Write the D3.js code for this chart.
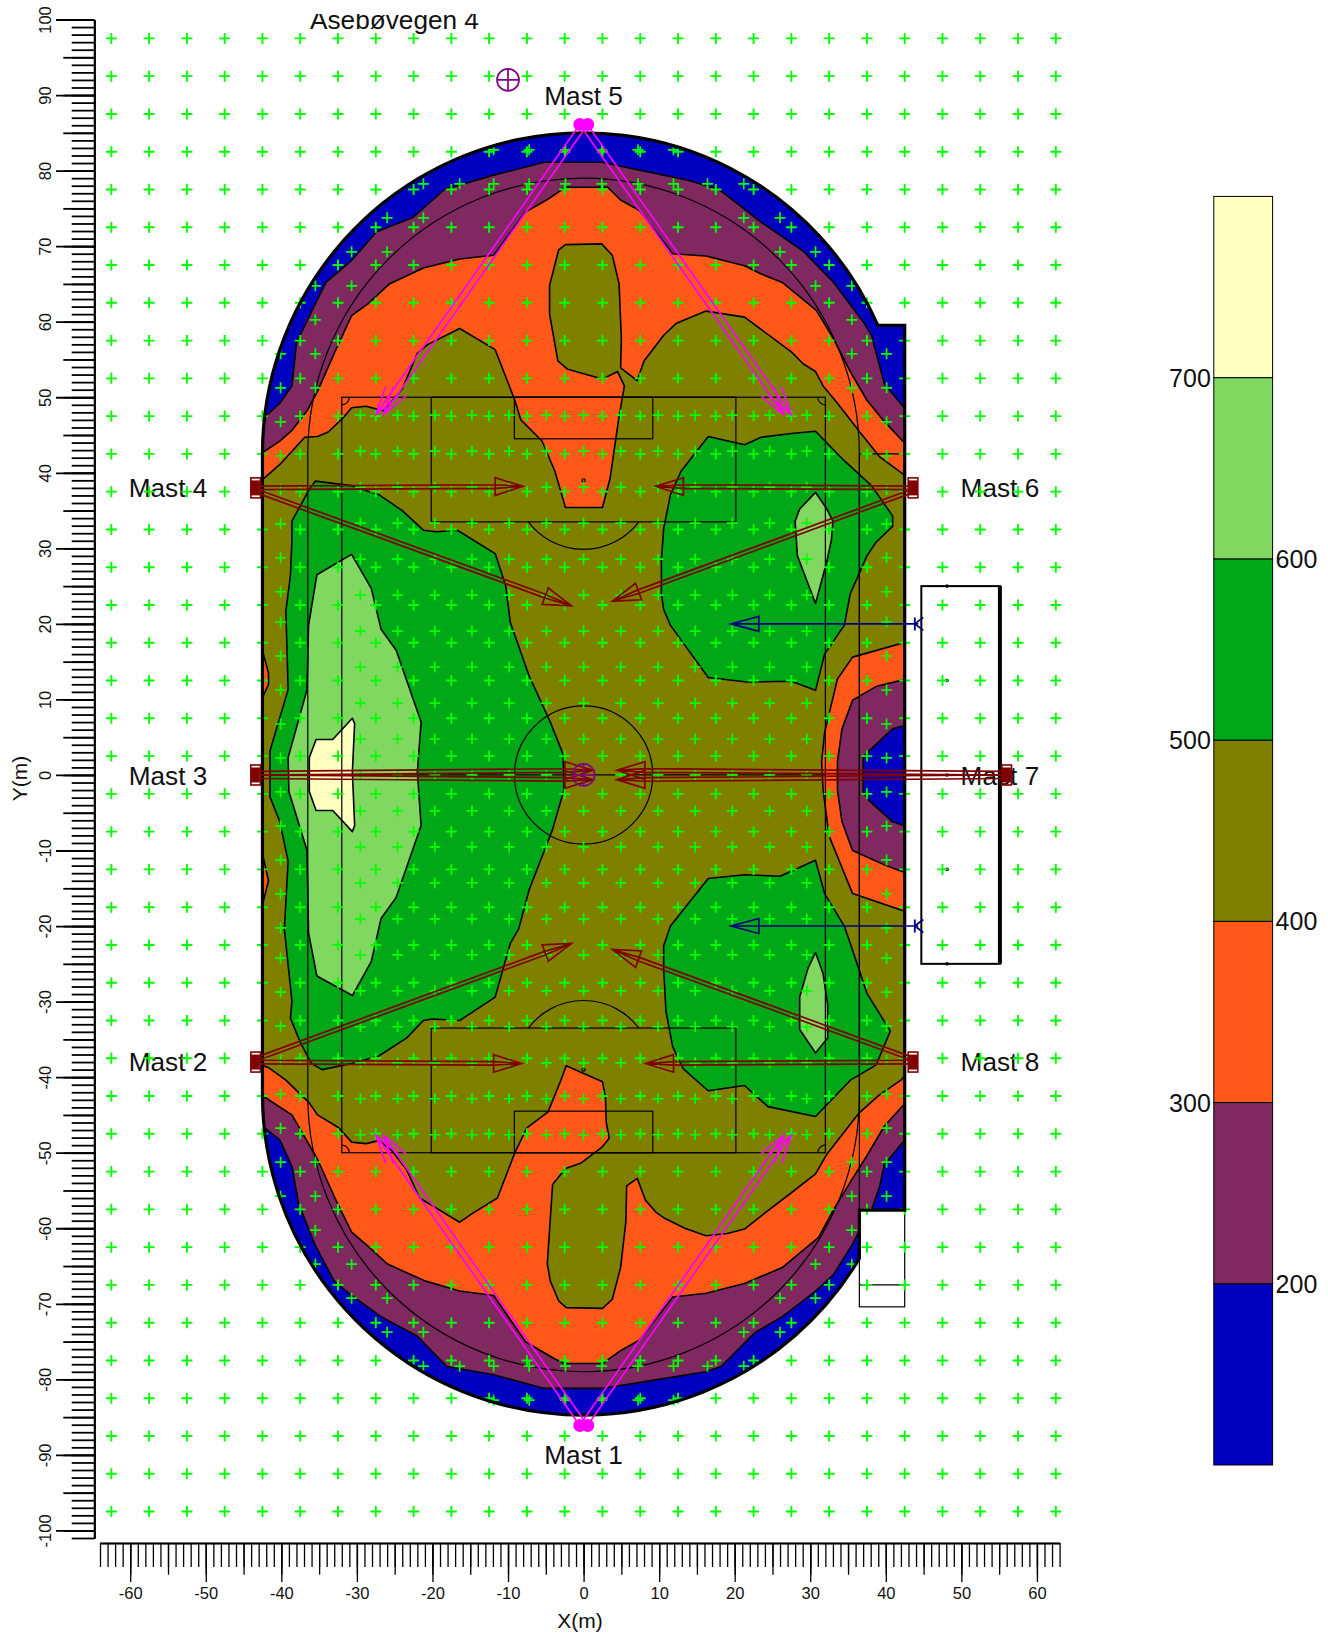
<!DOCTYPE html>
<html><head><meta charset="utf-8">
<script src="https://d3js.org/d3.v7.min.js"></script>
<style>html,body{margin:0;padding:0;background:#fff}svg{display:block}text{font-family:"Liberation Sans",Arial,sans-serif;fill:#111}</style>
</head><body><svg id="c" width="1328" height="1634"></svg>
<script>
// ---- contour levels ----
const legendLevels=[100,200,300,400,500,600,700,800];
const legendColors=["#0000c0","#802860","#ff5818","#808000","#00a818","#80d860","#ffffc0"];
const legendLeftLabels=[300,500,700];
const legendRightLabels=[200,400,600];
// ---- contour lines, metres ----
const purpleTop=[[-42.6,47],[-40.2,49.2],[-38.6,51.5],[-38,57.2],[-35.5,62.4],[-34.1,65.2],[-30.7,68.1],[-27.4,71.9],[-22.6,73.8],[-18.4,77.5],[-11.9,79.4],[-5.2,81.1],[2.4,81.1],[10.6,79.4],[14,78.7],[17.9,77.5],[21.3,74.9],[23.3,73.3],[29.1,69.3],[33.1,65.2],[37,60],[38.1,58.2],[39.8,51.8],[42.6,48.4]];
const purpleBottom=[[-42.6,-46.4],[-40.2,-48.3],[-38.6,-51.8],[-37.7,-56.8],[-35.5,-62.3],[-33,-67],[-30.7,-68.9],[-26.8,-71.7],[-22,-74.3],[-18.1,-78.3],[-11.9,-79.4],[-5.2,-81.2],[2.4,-81.2],[10.6,-79.9],[16.2,-79],[18.2,-78.3],[21.3,-75.2],[22.7,-73.8],[26.3,-71.7],[30.5,-68.5],[33.1,-66.1],[35.6,-62.1],[36.4,-60.5],[36.5,-57.6],[38.1,-57.6],[39.2,-54.4],[39.8,-51.6],[42.6,-48.2]];
const orangeTop=[[-42.6,42.6],[-40.2,44.2],[-38.6,45.6],[-36.6,48.2],[-35.2,50.8],[-33,55.8],[-30.7,60.8],[-28.5,62.4],[-25.7,65],[-21.2,67.1],[-16.4,68.3],[-11.9,68.8],[-7.7,74.5],[-4.9,76.1],[-2.4,77.8],[3.2,77.8],[4.9,76.1],[7.4,74.7],[11.8,69],[16.2,68.7],[21.3,67.4],[23.3,66.4],[26.3,65.2],[30.8,61.5],[33.1,57.7],[35.3,53.4],[37.5,49.6],[39.8,46.8],[42.6,43.8]];
const orangeBottom=[[-42.6,-42.4],[-38.6,-45],[-35.2,-50.9],[-33,-55.8],[-30.7,-60.5],[-28.5,-62.4],[-26,-64.7],[-23.4,-65.9],[-20.9,-67],[-16.4,-68.3],[-11.9,-68.9],[-7.7,-75],[-3.8,-77.3],[-2.4,-77.9],[2.5,-77.9],[4.9,-76.2],[7.4,-74.8],[11.8,-69.1],[16.2,-68.6],[21.3,-67.3],[26.3,-65.2],[31.1,-61.2],[33.1,-57.5],[35.3,-53.9],[37.5,-50.4],[39.8,-46.5],[42.6,-43.4]];
const oliveTop=[[-42.6,39],[-40.2,41.1],[-36.9,44.7],[-35.2,44.8],[-33.8,45.4],[-31.8,47.3],[-30.7,48.6],[-28.8,48.8],[-26.5,48.2],[-24,51.1],[-22,55.8],[-20.6,57],[-16.4,59.1],[-11.7,56.3],[-9.1,49.6],[-8.3,47],[-5.5,44.2],[-3.8,40.2],[-2.4,35.4],[2.5,35.4],[3.5,39.2],[4.6,46.8],[5.4,51.5],[4.5,53.4],[2.5,52.4],[-2.1,53.7],[-3.4,54.8],[-4.5,61],[-4.5,64.8],[-3.3,69.5],[-2.4,70.2],[2.4,70.3],[3.8,68.8],[4.7,65],[5,57.7],[4.9,53.9],[7.1,52.2],[8,54.8],[10.6,58.2],[12.3,59.8],[16.2,61.4],[21.3,60.6],[27.5,56],[29.1,54.4],[30.7,53.4],[31.7,51.5],[33.6,49.2],[36.4,45.6],[39.2,42.1],[42.6,39.6]];
const oliveBottom=[[-42.6,-38.4],[-41.6,-38.8],[-39.4,-40.4],[-36.3,-43.4],[-35.2,-45],[-32.4,-46.7],[-30.7,-48.6],[-28.8,-48.8],[-27.1,-48.4],[-25.4,-49.7],[-23.4,-52.3],[-21.7,-56],[-16.4,-59.2],[-14.5,-57.9],[-11.4,-56],[-9.1,-50],[-7.5,-46.7],[-4.7,-44.6],[-3,-40.4],[-2.3,-38.5],[2.5,-40.6],[2.9,-42.7],[3,-46],[3.4,-48.1],[2.4,-49.3],[-0.4,-51.4],[-2.4,-52.1],[-4.1,-54.2],[-4.8,-64.7],[-4.4,-67],[-3.3,-69.6],[-2.3,-70.5],[2.5,-70.6],[3.8,-69.4],[4.9,-65.2],[5.6,-59.1],[5.7,-54.4],[7.1,-53.4],[8.2,-56.3],[9.6,-57.9],[10.6,-58.6],[13.4,-60],[16.2,-61],[19,-60.7],[21.3,-60.1],[24.1,-57.9],[27.5,-55.3],[30.7,-52.8],[32.2,-50.2],[36.4,-44.8],[39.2,-42.3],[42,-40.4],[42.6,-39.6]];
const orangeSliverA=[[-42.7,17.2],[-41.7,13.5],[-41.7,12],[-42.7,9.8]];
const orangeSliverB=[[-42.7,-9.5],[-41.7,-14],[-42.7,-18]];
const greenLeft=[[-38.6,33.6],[-36.3,37.8],[-35.5,38.9],[-30.7,38.3],[-27.1,37.1],[-24,35],[-21.2,32.4],[-19.5,32.2],[-16.7,32.4],[-11.7,29.3],[-10.3,25],[-9.7,20.2],[-7.2,13.1],[-4.4,7],[-2.7,2.7],[-2.6,-2],[-4.1,-7.2],[-7.2,-15.2],[-8.6,-20.4],[-9.7,-22.3],[-11.7,-29.4],[-16.4,-32.5],[-20,-32.3],[-21.2,-32.5],[-23.4,-34.8],[-27.1,-37.2],[-30.7,-38.2],[-34.6,-39],[-36,-38.2],[-37.4,-35.6],[-38.8,-32.2],[-38.6,-29.9],[-39.6,-20.4],[-39.1,-11.4],[-40.2,-6.2],[-41.5,-2.9],[-41.5,3.2],[-39.1,11.3],[-39.4,21.7],[-38.8,26.4],[-38.6,31.1]];
const lightLeft=[[-30.7,29.2],[-35.3,26.5],[-36.4,19.8],[-36.6,11.3],[-39.1,2.3],[-39,-2.2],[-36.6,-10],[-36.4,-20.9],[-35.3,-26.6],[-30.6,-29.2],[-28.1,-24.7],[-26.8,-19],[-24.8,-16.2],[-21.5,-6.7],[-22,0.4],[-21.5,7],[-24.8,16.5],[-26.8,19.3],[-28.1,24.7]];
const yellowLeft=[[-30.6,7.5],[-33.2,4.7],[-35.4,4.7],[-36.3,2.3],[-36.3,-2.2],[-35.4,-4.7],[-33.2,-4.7],[-30.6,-7.5],[-30.3,-6.7],[-30.6,0.4],[-30.3,6.8]];
const greenUpperRight=[[16.5,44.8],[21.3,43.7],[23.5,44.7],[27.5,45.2],[30.7,45.5],[34.5,41.6],[38.1,38.3],[40.9,34.3],[40.9,32.9],[38.7,30.8],[37.5,29],[35.3,24],[34.5,19.8],[31.9,16],[30.7,11.2],[27.5,12.4],[21.6,12.3],[16.5,12.9],[11.5,19.8],[10.6,21.9],[10.3,24],[10.3,28.5],[10.6,32.6],[11.5,37.1],[12.9,40.2]];
const lightUpperRight=[[30.7,37.4],[28.6,35.2],[28,33.6],[28.3,29],[30.7,22.7],[32.2,28.3],[32.8,31.1],[33,33.6],[32.2,35.2]];
const greenLowerRight=[[30.7,-11.3],[26,-13.4],[21.3,-13.2],[16.5,-13.7],[11.5,-20],[10.6,-22.6],[10.6,-25.6],[10.9,-31.3],[11.8,-36],[13.2,-38.9],[16.5,-41.8],[21.3,-41.1],[24.4,-43.9],[30.7,-45.2],[35.3,-40.4],[38.7,-38.4],[40.6,-33.9],[37.5,-28.9],[36.4,-25.6],[35.3,-22.3],[34.5,-20],[31.9,-15.7]];
const lightLowerRight=[[30.7,-23.5],[29.7,-25.6],[28.6,-29.4],[28.6,-33.7],[30.7,-36.8],[32.3,-34.8],[32.3,-30.4],[31.7,-26.3]];
const orangeRight=[[42.7,17.6],[35.6,15.6],[33.6,12.7],[31.9,5.6],[31.5,1.8],[31.7,-2],[32.5,-8.1],[35.6,-15.7],[42.7,-18.1]];
const purpleRight=[[42.7,12.7],[38.7,11.7],[35.6,9.9],[34.2,6.1],[33.6,1.8],[33.6,-2],[34.2,-6.2],[35.6,-10],[39.8,-11.9],[42.7,-13]];
const blueRight=[[42.7,6.6],[40.9,6.1],[37.8,3.2],[37,2.3],[37,-2.2],[37.8,-3.4],[40.9,-6.2],[42.7,-6.8]];
// ---- calculation grids, metres ----
const outerGridX=[-62.5,-57.5,-52.5,-47.5,-42.5,-37.5,-32.5,-27.5,-22.5,-17.5,-12.5,-7.5,-2.5,2.5,7.5,12.5,17.5,22.5,27.5,32.5,37.5,42.5,47.5,52.5,57.5,62.5];
const outerGridY=[97.5,92.5,87.5,82.5,77.5,72.5,67.5,62.5,57.5,52.5,47.5,42.5,37.5,32.5,27.5,22.5,17.5,12.5,7.5,2.5,-2.5,-7.5,-12.5,-17.5,-22.5,-27.5,-32.5,-37.5,-42.5,-47.5,-52.5,-57.5,-62.5,-67.5,-72.5,-77.5,-82.5,-87.5,-92.5,-97.5];
const fieldGridX=[-29.54,-24.62,-19.69,-14.77,-9.85,-4.92,0,4.92,9.85,14.77,19.69,24.62,29.54];
const fieldGridY=[47.62,42.86,38.1,33.33,28.57,23.81,19.05,14.29,9.52,4.76,0,-4.76,-9.52,-14.29,-19.05,-23.81,-28.57,-33.33,-38.1,-42.86,-47.62];
const ringRows=[[82.75,[11.9,7.2,2.4]],[78.25,[21.2,16.4,11.9,7.2,2.4]],[73.75,[26,21.2]],[69.25,[30.7,26]],[64.75,[35.5,30.7]],[60.25,[35.5]],[55.75,[40.1,35.5]],[51.25,[40.1,35.5]],[46.75,[40.1]],[42.25,[40.1]],[37.75,[40.1]],[33.25,[40.1]],[28.75,[40.1]],[24.25,[40.1]],[20.25,[40.1]],[15.75,[40.1]],[11.25,[40.1]],[6.75,[40.1]],[2.25,[40.1]]];
// ---- aiming arrows, metres: [fromX,fromY,toX,toY] ----
const maroonArrows=[[-43.3,38,-8,38.2],[-43.3,37.6,-1.6,22.4],[43.5,38,9.5,38.2],[43.5,37.6,3.8,23],[-43.3,0.23,1.25,0.62],[-43.3,-0.23,1.25,-0.62],[56,0.23,4.4,0.62],[56,-0.23,4.4,-0.62],[-43.3,-38,-8.2,-38.2],[-43.3,-37.6,-1.6,-22.3],[43.5,-38,8.2,-38.2],[43.5,-37.6,3.8,-23.1]];
const magentaArrows=[[-0.5,86.1,-27.5,47.7],[0.55,86.1,-26.5,47.7],[0.5,86.1,27.5,47.7],[-0.55,86.1,26.5,47.7],[-0.5,-86.1,-27.5,-47.7],[0.55,-86.1,-26.5,-47.7],[0.5,-86.1,27.5,-47.7],[-0.55,-86.1,26.5,-47.7]];
const navyArrows=[[44.3,20,19.5,20],[44.3,-20,19.5,-20]];
const maroonMasts=[[-43.4,38],[43.6,38],[-43.4,0],[56,0],[-43.4,-38],[43.6,-38]];
const magentaMasts=[[-0.5,86.1],[0.55,86.1],[-0.5,-86.1],[0.55,-86.1]];
const navyMasts=[[44.3,20],[44.3,-20]];
const targets=[[-10,92],[0,0]];
const buildingDots=[[48.1,25],[48.1,12.5],[48.1,0],[48.1,-12.5],[48.1,-25]];
const mastLabels=[["Mast 5",-5.2,88.7],["Mast 4",-60.2,36.8],["Mast 6",49.9,36.8],["Mast 3",-60.2,-1.3],["Mast 7",49.9,-1.3],["Mast 2",-60.2,-39.2],["Mast 8",49.9,-39.2],["Mast 1",-5.2,-91.2]];
// ---- axis ticks ----
const xLabelTicks=[-60,-50,-40,-30,-20,-10,0,10,20,30,40,50,60];
const yLabelTicks=[100,90,80,70,60,50,40,30,20,10,0,-10,-20,-30,-40,-50,-60,-70,-80,-90,-100];

const svg=d3.select("#c");
const x=d3.scaleLinear().domain([-64,63]).range([100,1059.6]);
const y=d3.scaleLinear().domain([-101,100]).range([1538,19.5]);
const line=d3.line().x(d=>x(d[0])).y(d=>y(d[1]));
const closed=p=>line(p)+"Z";
const rOf=m=>x(m)-x(0);

// stadium outline
const R=42.5,C=42.5,Ri=36.5;
const boundary=`M${x(-R)},${y(C)} A${rOf(R)},${rOf(R)} 0 0 1 ${x(38.95)},${y(59.5)} L${x(42.5)},${y(59.5)} L${x(42.5)},${y(-57.6)} L${x(36.5)},${y(-57.6)} L${x(36.5)},${y(-64)} A${rOf(R)},${rOf(R)} 0 0 1 ${x(-R)},${y(-C)} Z`;
const defs=svg.append("defs");
defs.append("clipPath").attr("id","site").append("path").attr("d",boundary);
defs.append("clipPath").attr("id","titleClip").append("rect").attr("x",0).attr("y",14).attr("width",1328).attr("height",40);

const colorOf=v=>legendColors[legendLevels.indexOf(v)];
const cg=svg.append("g").attr("clip-path","url(#site)");
cg.append("path").attr("d",boundary).attr("fill",colorOf(100));
const layers=[
 [purpleTop.concat(purpleBottom.slice().reverse()),200],
 [orangeTop.concat(orangeBottom.slice().reverse()),300],
 [oliveTop.concat(oliveBottom.slice().reverse()),400],
 [orangeSliverA,300],[orangeSliverB,300],
 [greenLeft,500],[greenUpperRight,500],[greenLowerRight,500],
 [lightLeft,600],[lightUpperRight,600],[lightLowerRight,600],
 [yellowLeft,700],
 [orangeRight,300],[purpleRight,200],[blueRight,100]
];
cg.selectAll("path.c").data(layers).join("path").attr("class","c")
  .attr("d",d=>closed(d[0])).attr("fill",d=>colorOf(d[1])).attr("stroke","#000").attr("stroke-width",1.6).attr("stroke-linejoin","round");

// field and track lines
const thin=svg.append("g").attr("fill","none").attr("stroke","#000").attr("stroke-width",1.2);
const box=(x0,x1,y0,y1)=>thin.append("rect").attr("x",x(x0)).attr("y",y(y0)).attr("width",x(x1)-x(x0)).attr("height",y(y1)-y(y0));
box(-32,32,50,-50);
box(-20.16,20.16,50,33.5);box(-20.16,20.16,-33.5,-50);
box(-9.16,9.16,50,44.5);box(-9.16,9.16,-44.5,-50);
thin.append("line").attr("x1",x(-32)).attr("x2",x(32)).attr("y1",y(0)).attr("y2",y(0));
thin.append("circle").attr("cx",x(0)).attr("cy",y(0)).attr("r",rOf(9.15));
const dx=7.31,rp=rOf(9.15);
thin.append("path").attr("d",`M${x(-dx)},${y(33.5)} A${rp},${rp} 0 0 0 ${x(dx)},${y(33.5)}`);
thin.append("path").attr("d",`M${x(-dx)},${y(-33.5)} A${rp},${rp} 0 0 1 ${x(dx)},${y(-33.5)}`);
thin.selectAll("circle.s").data([39,-39]).join("circle").attr("class","s").attr("cx",x(0)).attr("cy",d=>y(d)).attr("r",1.6);
const r1=rOf(1);
[[-32,50,1,-1,0],[32,50,-1,-1,1],[-32,-50,1,1,1],[32,-50,-1,1,0]].forEach(([a,b,sa,sb,sw])=>{
  thin.append("path").attr("d",`M${x(a+sa)},${y(b)} A${r1},${r1} 0 0 ${sw===1?0:1} ${x(a)},${y(b+sb)}`);
});
const ri=rOf(Ri);
thin.append("path").attr("d",`M${x(-Ri)},${y(-C)} L${x(-Ri)},${y(C)} A${ri},${ri} 0 0 1 ${x(Ri)},${y(C)} L${x(Ri)},${y(-C)} A${ri},${ri} 0 0 1 ${x(-Ri)},${y(-C)}`);
thin.append("rect").attr("x",x(36.5)).attr("y",y(-57.6)).attr("width",x(42.5)-x(36.5)).attr("height",y(-70.4)-y(-57.6)).attr("fill","#fff");
thin.append("line").attr("x1",x(36.5)).attr("x2",x(42.5)).attr("y1",y(-67.5)).attr("y2",y(-67.5));
thin.append("line").attr("x1",x(36.5)).attr("x2",x(42.5)).attr("y1",y(42.5)).attr("y2",y(42.5));
thin.append("line").attr("x1",x(36.5)).attr("x2",x(36.5)).attr("y1",y(42.5)).attr("y2",y(-57.6));

// building
svg.append("rect").attr("x",x(44.7)).attr("y",y(25)).attr("width",x(55.1)-x(44.7)).attr("height",y(-25)-y(25)).attr("fill","none").attr("stroke","#000").attr("stroke-width",2);
svg.append("line").attr("x1",x(55.1)).attr("x2",x(55.1)).attr("y1",y(25)).attr("y2",y(-25)).attr("stroke","#000").attr("stroke-width",4);
svg.selectAll("circle.d").data(buildingDots).join("circle").attr("class","d").attr("cx",d=>x(d[0])).attr("cy",d=>y(d[1])).attr("r",1.8).attr("fill","#000");

// labels
svg.selectAll("text.m").data(mastLabels).join("text").attr("class","m").attr("x",d=>x(d[1])).attr("y",d=>y(d[2])).attr("font-size",26.2).text(d=>d[0]);
svg.append("text").attr("x",x(-36.2)).attr("y",y(98.8)).attr("font-size",26.2).attr("clip-path","url(#titleClip)").text("Åsebøvegen 4");

// crosses
const ringPts=[];
ringRows.forEach(([yy,xs])=>xs.forEach(v=>{[[v,yy],[-v,yy],[v,-yy],[-v,-yy]].forEach(p=>ringPts.push(p));}));
const gridPts=d3.cross(outerGridX,outerGridY);
const fieldPts=d3.cross(fieldGridX,fieldGridY);
const crosses=(pts,w)=>{
  const g=svg.append("g").attr("stroke","#00ff00").attr("stroke-width",w).attr("fill","none");
  g.selectAll("path").data(pts).join("path").attr("d",d=>`M${x(d[0])-5.5},${y(d[1])}h11M${x(d[0])},${y(d[1])-5.5}v11`);
};
crosses(gridPts,1.9);crosses(fieldPts,1.7);crosses(ringPts,1.7);

// site outline above the crosses
svg.append("path").attr("d",boundary).attr("fill","none").attr("stroke","#000").attr("stroke-width",3.2);

// arrows
function arrow(g,a,opt){
  const x0=x(a[0]),y0=y(a[1]),x1=x(a[2]),y1=y(a[3]);
  const L=Math.hypot(x1-x0,y1-y0),ux=(x1-x0)/L,uy=(y1-y0)/L,nx=-uy,ny=ux;
  const bx=x1-ux*opt.len,by=y1-uy*opt.len,W=opt.wid,gap=opt.gap;
  let d=`M${bx+nx*W},${by+ny*W}L${x1},${y1}L${bx-nx*W},${by-ny*W}`+(opt.open?"":"Z");
  if(gap>0){d+=`M${x0+nx*gap},${y0+ny*gap}L${bx+nx*gap},${by+ny*gap}L${x1},${y1}L${bx-nx*gap},${by-ny*gap}L${x0-nx*gap},${y0-ny*gap}`;}
  else{d+=`M${x0},${y0}L${x1},${y1}`;}
  g.append("path").attr("d",d).attr("fill","none");
}
const mg=svg.append("g").attr("stroke","#800000").attr("stroke-width",1.7);
maroonArrows.forEach(a=>arrow(mg,a,{gap:1.8,len:28,wid:8.8}));
const pg=svg.append("g").attr("stroke","#ff00ff").attr("stroke-width",1.7);
magentaArrows.forEach(a=>arrow(pg,a,{gap:0,len:28.5,wid:8,open:true}));
const ng=svg.append("g").attr("stroke","#000080").attr("stroke-width",1.6);
navyArrows.forEach(a=>arrow(ng,a,{gap:0,len:28,wid:7.5}));
maroonMasts.forEach(m=>{
  const g=svg.append("g");
  g.append("rect").attr("x",x(m[0])-4.8).attr("y",y(m[1])-10).attr("width",9.6).attr("height",20).attr("fill","none").attr("stroke","#800000").attr("stroke-width",1.6);
  g.append("rect").attr("x",x(m[0])-4.8).attr("y",y(m[1])-7.5).attr("width",9).attr("height",15).attr("fill","#800000");
});
svg.selectAll("circle.mm").data(magentaMasts).join("circle").attr("class","mm").attr("cx",d=>x(d[0])).attr("cy",d=>y(d[1])).attr("r",5.8).attr("fill","#ff00ff").attr("stroke","#ff00ff").attr("stroke-width",1.4);
navyMasts.forEach(m=>{
  const X=x(m[0]),Y=y(m[1]);
  svg.append("path").attr("d",`M${X-3.5},${Y-6.5}v13M${X-3.5},${Y}L${X+5},${Y-6.5}M${X-3.5},${Y}L${X+5},${Y+6.5}`).attr("stroke","#000080").attr("stroke-width",1.8).attr("fill","none");
});
targets.forEach(t=>{
  const g=svg.append("g").attr("fill","none").attr("stroke","#800080").attr("stroke-width",1.7);
  g.append("circle").attr("cx",x(t[0])).attr("cy",y(t[1])).attr("r",11);
  g.append("path").attr("d",`M${x(t[0])-11},${y(t[1])}h22M${x(t[0])},${y(t[1])-11}v22`);
});

// axes
const plain=d=>String(d);
function xAxis(ticks,size,labels){
  const a=d3.axisBottom(x).tickValues(ticks).tickSize(size).tickSizeOuter(0).tickPadding(5).tickFormat(labels?plain:"");
  const g=svg.append("g").attr("transform","translate(0,1543)").call(a);
  g.selectAll("line").attr("stroke","#000").attr("stroke-width",1.3);
  g.selectAll("path").attr("stroke","#000").attr("stroke-width",1.4);
  g.selectAll("text").attr("font-size",16.5).attr("font-family",null);
  return g;
}
const ones=d3.range(-64,64);
xAxis(ones,24,false);
xAxis(ones.filter(v=>v%5===0),31.7,false);
xAxis(xLabelTicks,39,true);
function yAxis(ticks,size,labels){
  const a=d3.axisLeft(y).tickValues(ticks).tickSize(size).tickSizeOuter(0).tickFormat(labels?plain:"");
  const g=svg.append("g").attr("transform","translate(94.3,0)").call(a);
  g.selectAll("line").attr("stroke","#000").attr("stroke-width",1.8);
  g.selectAll("path").attr("stroke","#000").attr("stroke-width",1.8);
  g.selectAll("text").attr("font-size",16.5).attr("font-family",null).attr("x",null).attr("dy",null)
    .attr("text-anchor","middle").attr("dominant-baseline","central")
    .attr("transform","translate(-49.8,0) rotate(-90)");
  return g;
}
const yOnes=d3.range(-101,101);
yAxis(yOnes,22.6,false);
yAxis(yOnes.filter(v=>v%5===0),31,false);
yAxis(yLabelTicks,38.3,true);
svg.append("text").attr("x",580).attr("y",1628).attr("text-anchor","middle").attr("font-size",21).text("X(m)");
svg.append("text").attr("transform","translate(26.5,778.6) rotate(-90)").attr("text-anchor","middle").attr("font-size",21).text("Y(m)");

// legend
const ly=d3.scaleLinear().domain([100,800]).range([1465,196.4]);
const lx0=1213.8,lx1=1272.6;
svg.selectAll("rect.l").data(legendColors).join("rect").attr("class","l").attr("x",lx0).attr("width",lx1-lx0)
  .attr("y",(d,i)=>ly(legendLevels[i+1])).attr("height",(d,i)=>ly(legendLevels[i])-ly(legendLevels[i+1]))
  .attr("fill",d=>d).attr("stroke","#000").attr("stroke-width",1);
svg.selectAll("text.ll").data(legendLeftLabels).join("text").attr("class","ll").attr("x",lx0-3).attr("y",d=>ly(d)).attr("dominant-baseline","central").attr("text-anchor","end").attr("font-size",25).text(d=>d);
svg.selectAll("text.lr").data(legendRightLabels).join("text").attr("class","lr").attr("x",lx1+3).attr("y",d=>ly(d)).attr("dominant-baseline","central").attr("font-size",25).text(d=>d);
</script></body></html>
